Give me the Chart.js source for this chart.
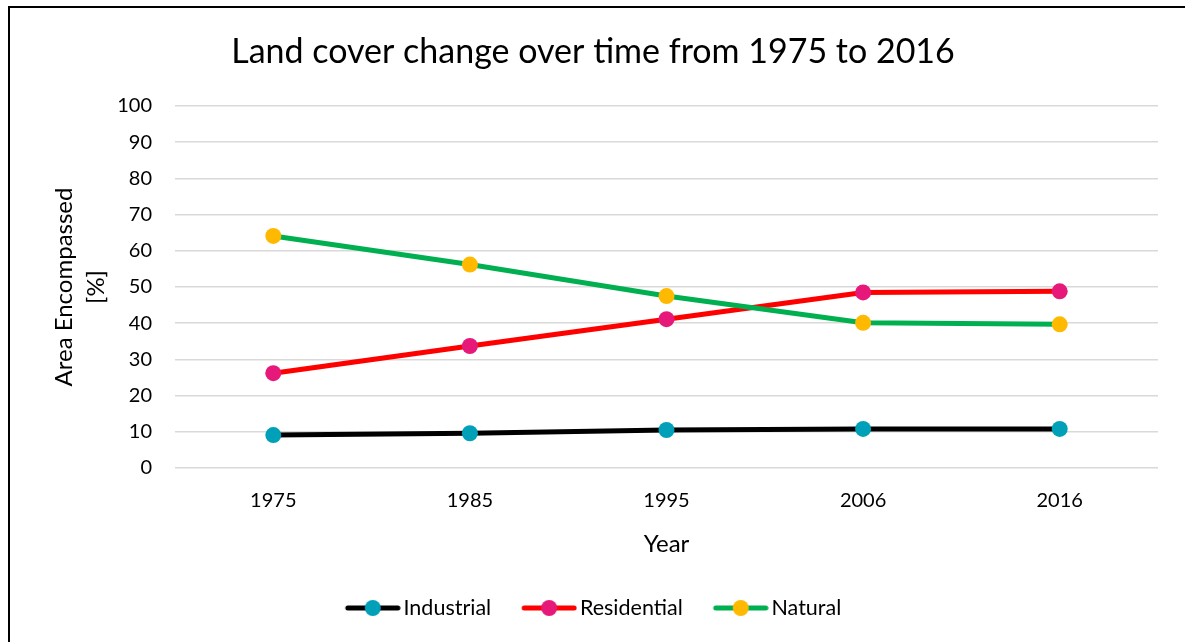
<!DOCTYPE html>
<html>
<head>
<meta charset="utf-8">
<script src="https://cdn.jsdelivr.net/npm/chart.js@4/dist/chart.umd.min.js"></script>
<style>
  html, body { margin: 0; padding: 0; background: #ffffff; }
  #wrap { width: 1185px; height: 642px; position: relative; }
</style>
</head>
<body>
<div id="wrap"><canvas id="c" width="1185" height="642"></canvas></div>
<script>
const years = ['1975', '1985', '1995', '2006', '2016'];
const industrial = [9.1, 9.6, 10.5, 10.8, 10.8];
const residential = [26.2, 33.7, 41.1, 48.5, 48.8];
const natural = [64.1, 56.2, 47.5, 40.1, 39.7];
const seriesNames = ['Industrial', 'Residential', 'Natural'];
const lineColors = ['#000000', '#ff0000', '#00b050'];
const markerColors = ['#00a0b8', '#e6197a', '#ffb900'];

const FONT = 'Lato, "Noto Sans", "DejaVu Sans", sans-serif';

// legend icon: 64px wide canvas, visible part drawn in its right 56px
function makeIcon(lineColor, markerColor) {
  const c = document.createElement('canvas');
  c.width = 64; c.height = 18;
  const g = c.getContext('2d');
  g.strokeStyle = lineColor;
  g.lineWidth = 5;
  g.lineCap = 'round';
  g.beginPath(); g.moveTo(11, 9); g.lineTo(61, 9); g.stroke();
  g.fillStyle = markerColor;
  g.beginPath(); g.arc(36, 9, 8, 0, Math.PI * 2); g.fill();
  return c;
}
const icons = seriesNames.map((n, i) => makeIcon(lineColors[i], markerColors[i]));

const frame = {
  id: 'frame',
  beforeDraw(chart) {
    const ctx = chart.ctx;
    ctx.save();
    ctx.fillStyle = '#ffffff';
    ctx.fillRect(0, 0, chart.width, chart.height);
    ctx.fillStyle = '#000000';
    ctx.fillRect(8, 6, chart.width, 2);
    ctx.fillRect(8, 6, 2, chart.height);
    ctx.restore();
  }
};

const values = [industrial, residential, natural];
const datasets = seriesNames.map((name, i) => ({
  label: name,
  data: values[i],
  borderColor: lineColors[i],
  backgroundColor: markerColors[i],
  pointBackgroundColor: markerColors[i],
  pointBorderColor: markerColors[i],
  pointRadius: 8,
  pointBorderWidth: 0,
  borderWidth: 5,
  tension: 0,
  fill: false,
  order: 3 - i
}));

new Chart(document.getElementById('c'), {
  type: 'line',
  data: { labels: years, datasets: datasets },
  options: {
    responsive: false,
    animation: false,
    devicePixelRatio: 1,
    layout: { padding: { left: 28, right: 27, top: 0, bottom: 13.25 } },
    plugins: {
      tooltip: { enabled: false },
      title: {
        display: true,
        text: 'Land cover change over time from 1975 to 2016',
        color: '#000000',
        font: { family: FONT, size: 34, weight: 'normal', lineHeight: 1.2 },
        padding: { top: 31.6, bottom: 33.6 }
      },
      legend: {
        display: true,
        position: 'bottom',
        labels: {
          usePointStyle: true,
          pointStyleWidth: 48,
          boxWidth: 48,
          padding: 30,
          color: '#000000',
          font: { family: FONT, size: 21.5 },
          sort: (a, b) => a.datasetIndex - b.datasetIndex,
          generateLabels(chart) {
            const items = Chart.defaults.plugins.legend.labels.generateLabels(chart);
            items.forEach(it => { it.pointStyle = icons[it.datasetIndex]; });
            return items;
          }
        }
      }
    },
    scales: {
      x: {
        type: 'category',
        offset: true,
        grid: { display: false, drawTicks: false },
        border: { display: false },
        ticks: {
          color: '#000000',
          padding: 21,
          font: { family: FONT, size: 20 }
        },
        title: {
          display: true,
          text: 'Year',
          color: '#000000',
          font: { family: FONT, size: 24, lineHeight: 1.2 },
          padding: { top: 0, bottom: 9 }
        },
        afterFit(scale) { scale.height = 99.25; }
      },
      y: {
        min: 0,
        max: 100,
        grid: { color: '#d9d9d9', lineWidth: 1.5, drawTicks: false },
        border: { display: false },
        ticks: {
          stepSize: 10,
          color: '#000000',
          padding: 23,
          font: { family: FONT, size: 20 }
        },
        title: {
          display: true,
          text: ['Area Encompassed', '[%]'],
          color: '#000000',
          font: { family: FONT, size: 24, lineHeight: 1.35 },
          padding: { top: 20, bottom: 0 }
        },
        afterFit(scale) { scale.width = 147; }
      }
    }
  },
  plugins: [frame]
});
</script>
</body>
</html>
